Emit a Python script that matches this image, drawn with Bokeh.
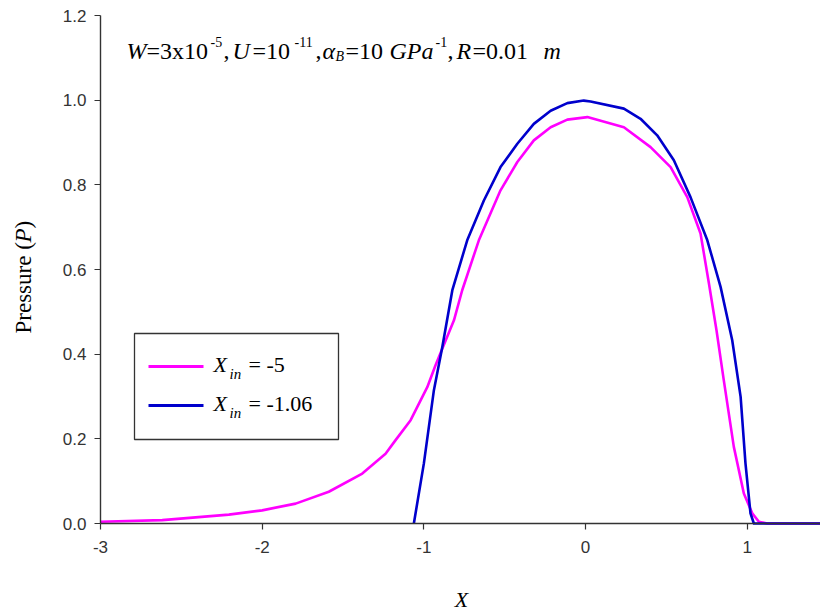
import math
from bokeh.plotting import figure
from bokeh.models import Range1d, FixedTicker, PrintfTickFormatter, Label, BoxAnnotation
from bokeh.embed import file_html
from bokeh.resources import INLINE

# Dimensionless pressure profiles P(X) for two inlet positions
x_in5 = [-3.0, -2.618, -2.206, -2.0, -1.793, -1.588, -1.381, -1.237, -1.175, -1.082,
         -0.979, -0.928, -0.814, -0.763, -0.660, -0.526, -0.422, -0.320, -0.216, -0.113,
         0.011, 0.237, 0.402, 0.526, 0.629, 0.711, 0.763, 0.810, 0.855, 0.917, 0.979,
         1.031, 1.072, 1.124, 1.453]
p_in5 = [0.004, 0.008, 0.021, 0.031, 0.047, 0.075, 0.118, 0.165, 0.197, 0.244,
         0.322, 0.374, 0.480, 0.551, 0.669, 0.787, 0.854, 0.905, 0.936, 0.954,
         0.960, 0.936, 0.889, 0.842, 0.771, 0.685, 0.567, 0.456, 0.338, 0.181, 0.071,
         0.024, 0.004, 0.0, 0.0]

x_in106 = [-1.062, -1.0, -0.938, -0.886, -0.824, -0.732, -0.629, -0.526, -0.422, -0.320,
           -0.216, -0.113, -0.011, 0.031, 0.237, 0.340, 0.443, 0.546, 0.649, 0.753,
           0.835, 0.907, 0.959, 0.989, 1.020, 1.041, 1.453]
p_in106 = [0.0, 0.142, 0.315, 0.417, 0.551, 0.669, 0.763, 0.842, 0.897, 0.944,
           0.975, 0.993, 0.999, 0.997, 0.980, 0.956, 0.917, 0.858, 0.771, 0.669,
           0.559, 0.433, 0.299, 0.142, 0.024, 0.0, 0.0]

x_ticks = [-3, -2, -1, 0, 1]
y_ticks = [0.0, 0.2, 0.4, 0.6, 0.8, 1.0, 1.2]
x_lim = (-3.0, 1.453)
y_lim = (0.0, 1.2)
series_values = ["-5", "-1.06"]
series_colors = ["#ff00ff", "#0000cc"]

W, H = 820, 611
# Axes box on the canvas (px): the frame spans the whole canvas so that
# annotation text placed in the margins is not clipped.
AL, AR, AT, AB = 100, 820, 15, 523
sx_unit = (AR - AL) / (x_lim[1] - x_lim[0])
sy_unit = (AB - AT) / (y_lim[1] - y_lim[0])
x_range = Range1d(x_lim[0] - AL / sx_unit, x_lim[1] + (W - AR) / sx_unit)
y_range = Range1d(y_lim[0] - (H - AB) / sy_unit, y_lim[1] + AT / sy_unit)

AXIS = "#333333"
SERIF = "Liberation Serif"
SANS = "Liberation Sans"

p = figure(width=W, height=H, output_backend="svg", toolbar_location=None,
           x_range=x_range, y_range=y_range, min_border=0)
p.outline_line_color = None
p.grid.visible = False
p.background_fill_color = "white"
p.border_fill_color = "white"

p.line(x_in5, p_in5, line_color=series_colors[0], line_width=2.6, line_join="round")
p.line(x_in106, p_in106, line_color=series_colors[1], line_width=2.6, line_join="round")

p.xaxis.fixed_location = y_lim[0]
p.xaxis.bounds = x_lim
p.yaxis.fixed_location = x_lim[0]
p.yaxis.bounds = y_lim

for ax in (p.xaxis[0], p.yaxis[0]):
    ax.axis_line_color = AXIS
    ax.axis_line_width = 1.4
    ax.major_tick_line_color = AXIS
    ax.major_tick_line_width = 1.2
    ax.major_tick_out = 6
    ax.major_tick_in = 0
    ax.minor_tick_line_color = None
    ax.major_label_text_font = SANS
    ax.major_label_text_font_size = "17px"
    ax.major_label_text_color = AXIS

p.xaxis.ticker = FixedTicker(ticks=x_ticks)
p.xaxis.formatter = PrintfTickFormatter(format="%d")
p.xaxis.major_label_standoff = 11
p.yaxis.ticker = FixedTicker(ticks=y_ticks)
p.yaxis.formatter = PrintfTickFormatter(format="%.1f")
p.yaxis.major_label_standoff = 8

# Label text sits a few px lower than its anchor; compensate here.
LIFT = 7


def put(text, cx, cy, size, italic=False, angle=0.0, align="left"):
    """Place a text run with its baseline at a canvas position (px from top-left)."""
    if angle:
        cx -= LIFT
    else:
        cy -= LIFT
    p.add_layout(Label(x=cx, y=H - cy, x_units="screen", y_units="screen",
                       text=text, text_font=SERIF, text_font_size=f"{size}px",
                       text_font_style="italic" if italic else "normal",
                       text_color="black", angle=angle,
                       text_align=align, text_baseline="alphabetic"))


def box(left, right, top, bottom, **style):
    """Rectangle given in canvas px."""
    p.add_layout(BoxAnnotation(left=left, right=right, top=H - top, bottom=H - bottom,
                               left_units="screen", right_units="screen",
                               top_units="screen", bottom_units="screen", **style))


# Parameter line at the top of the plot
BIG, SMALL = 24, 14
put("W", 126, 57, BIG, italic=True)
put("=3x10", 146, 57, BIG)
put("-5", 210, 48, SMALL)
put(",", 223, 57, BIG)
put("U", 232, 57, BIG, italic=True)
put("=10", 252, 57, BIG)
put("-11", 294, 48, SMALL)
put(",", 315, 57, BIG)
put("\u03b1", 322, 57, BIG, italic=True)
put("B", 335, 63, SMALL, italic=True)
put("=10", 345, 57, BIG)
put("GPa", 389, 57, BIG, italic=True)
put("-1", 435, 48, SMALL)
put(",", 447, 57, BIG)
put("R", 456, 57, BIG, italic=True)
put("=0.01", 472, 57, BIG)
put("m", 543, 57, BIG, italic=True)

# Axis titles
put("X", 461, 606, 22, italic=True, align="center")
put("Pressure (", 30, 333, 23, angle=math.pi / 2)
put("P", 30, 242, 23, italic=True, angle=math.pi / 2)
put(")", 30, 228, 23, angle=math.pi / 2)

# Legend box with sample lines and labels
box(134, 338, 333, 439, fill_color="white", fill_alpha=1.0,
    line_color=AXIS, line_alpha=1.0, line_width=1.3)
for i, (val, col) in enumerate(zip(series_values, series_colors)):
    ly = 366 + 39 * i
    box(148, 203, ly - 1.5, ly + 1.5, fill_color=col, fill_alpha=1.0, line_color=None)
    base = ly + 5
    put("X", 213, base, 22, italic=True)
    put("in", 229, base + 9, 15, italic=True)
    put("= " + val, 248, base, 22)

open("out.html", "w").write(file_html(p, INLINE))
